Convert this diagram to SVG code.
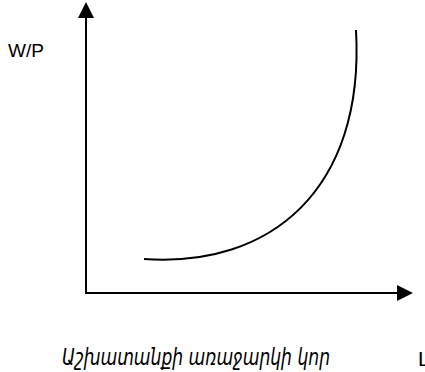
<svg xmlns="http://www.w3.org/2000/svg" width="425" height="372" viewBox="0 0 425 372">
<style>
.ax{stroke:#000;stroke-width:2;fill:none}
.cv{stroke:#000;stroke-width:2;fill:none}
.lbl{font-family:"Liberation Sans",Arial,sans-serif;fill:#000}
.cap{font-family:"DejaVu Sans","Noto Sans",sans-serif;font-style:italic;fill:#000}
</style>
<rect width="425" height="372" fill="#fff"/>
<g id="connectors">
<line class="ax" x1="86" y1="293" x2="86" y2="16"/>
<polygon points="86,2 78,18 94,18" fill="#000"/>
<line class="ax" x1="85" y1="293" x2="399" y2="293"/>
<polygon points="413,293 397,285 397,301" fill="#000"/>
</g>
<g id="curve">
<path class="cv" d="M144,259 C270,268 365,190 356,30"/>
</g>
<g id="label-wp"><text class="lbl" x="8" y="57" font-size="19">W/P</text></g>
<g id="label-l"><text class="lbl" x="418" y="366" font-size="21">L</text></g>
<g id="caption"><text class="cap" x="62" y="365" font-size="23" textLength="268" lengthAdjust="spacingAndGlyphs">Աշխատանքի առաջարկի կոր</text></g>
</svg>
